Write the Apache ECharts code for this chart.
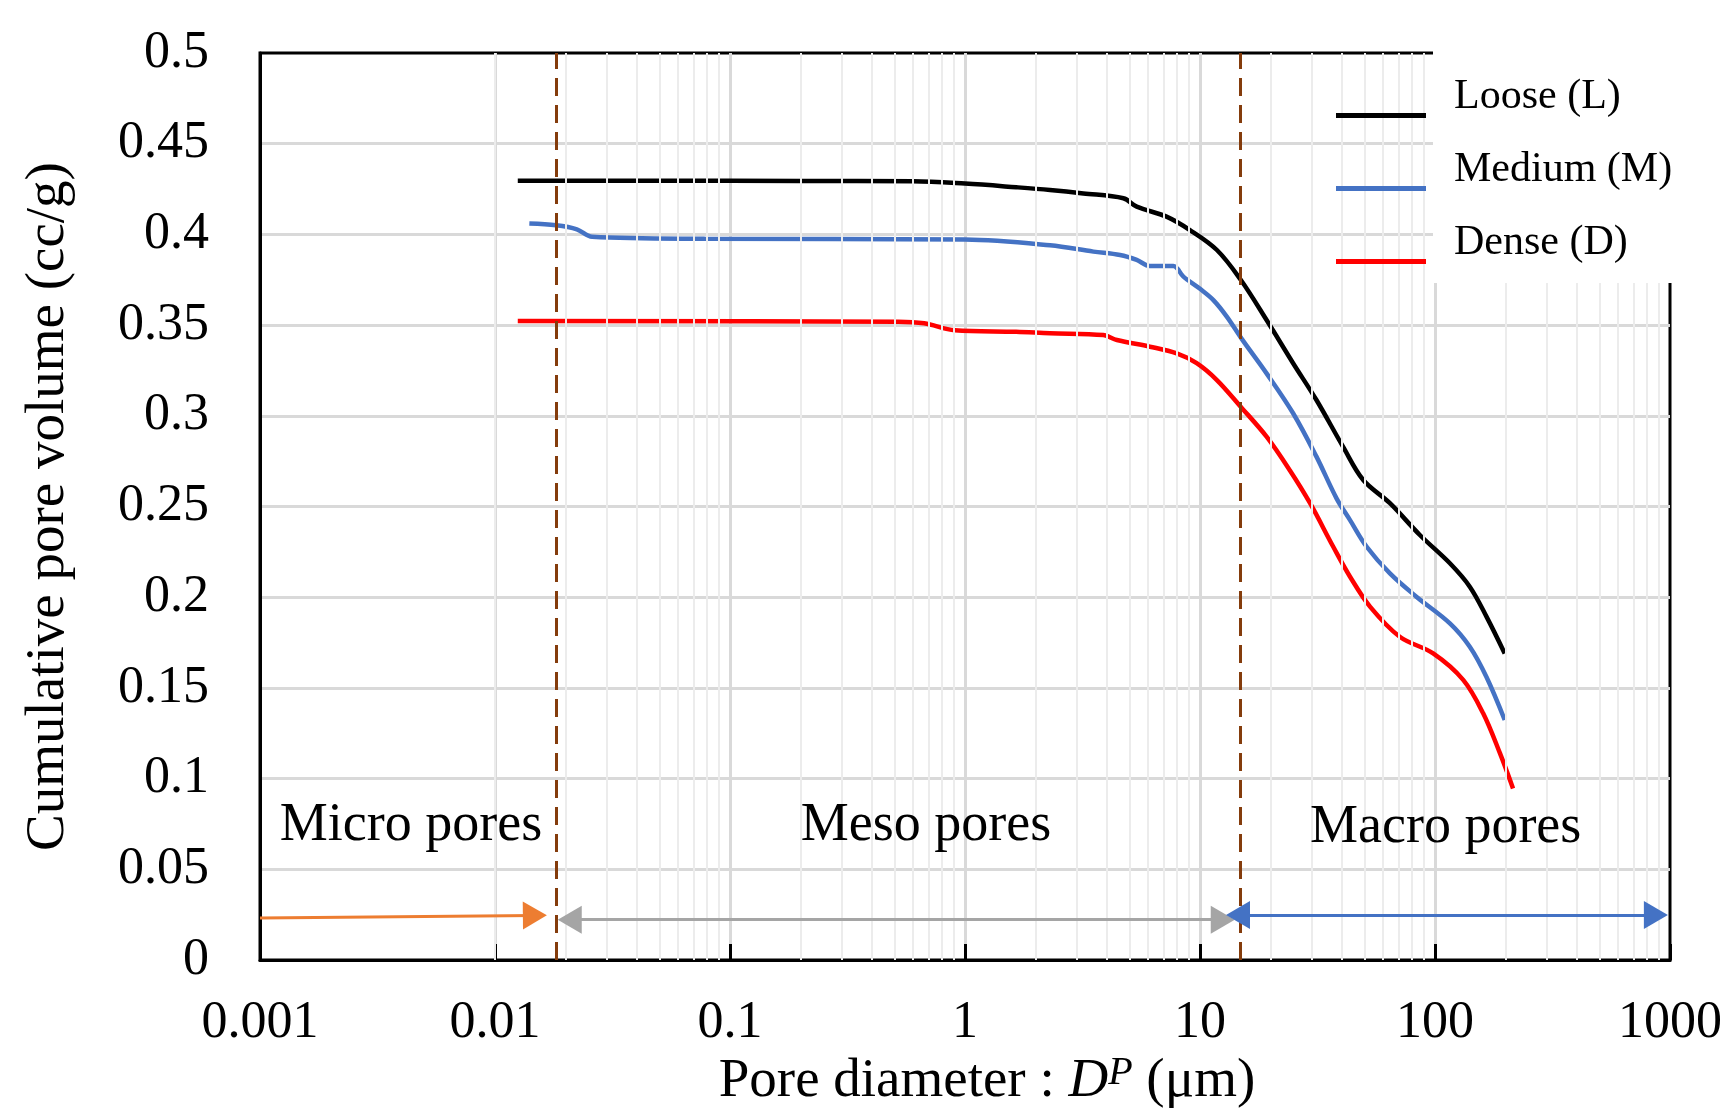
<!DOCTYPE html>
<html>
<head>
<meta charset="UTF-8">
<title>Cumulative pore volume</title>
<script src="https://cdn.jsdelivr.net/npm/echarts@6/dist/echarts.min.js"></script>
<style>
	html, body { margin: 0; padding: 0; background: #fff; }
	#chart { width: 1725px; height: 1118px; }
</style>
</head>
<body>
<div id="chart"></div>
<script>
// pore diameter (um) / cumulative pore volume (cc/g)
var looseD = [0.0125, 0.05, 0.2, 0.6, 1, 1.65, 2.3, 3.19, 4.72, 5.38, 7.2, 9.06, 11.8, 14.9, 19.2, 24.9, 31.3, 40.6, 49.5, 64.3, 86.2, 115.7, 140.6, 165.6, 198];
var looseV = [0.4296, 0.4296, 0.4295, 0.4293, 0.428, 0.426, 0.4245, 0.4226, 0.4199, 0.4153, 0.4098, 0.4024, 0.3914, 0.375, 0.3528, 0.329, 0.3087, 0.283, 0.2646, 0.2518, 0.2343, 0.2187, 0.2058, 0.1893, 0.169];

var mediumD = [0.014, 0.0182, 0.0223, 0.0259, 0.078, 1, 2.3, 3.52, 4.57, 5.38, 6.12, 7.7, 8.5, 10, 11.4, 13.0, 15.0, 19.2, 24.9, 31.3, 38.1, 43.5, 51.2, 64.3, 83.3, 115.7, 140.6, 165.6, 198];
var mediumV = [0.406, 0.405, 0.4028, 0.3987, 0.3976, 0.3972, 0.394, 0.3905, 0.3886, 0.3859, 0.3826, 0.3826, 0.3767, 0.370, 0.3638, 0.3547, 0.3427, 0.3234, 0.3014, 0.2775, 0.2545, 0.2425, 0.2278, 0.2131, 0.2003, 0.1856, 0.1727, 0.156, 0.1323];

var denseD = [0.0125, 0.52, 0.67, 0.905, 1.65, 2.3, 3.88, 4.43, 6.12, 7.96, 9.68, 11.8, 14.9, 19.2, 24.1, 29.4, 36.9, 43.5, 52.9, 70.8, 98.2, 131.8, 160.3, 188.9, 214.8];
var denseV = [0.3522, 0.3519, 0.351, 0.3472, 0.3463, 0.3455, 0.3445, 0.3418, 0.3381, 0.3344, 0.329, 0.3197, 0.305, 0.2885, 0.270, 0.2518, 0.2278, 0.2113, 0.1948, 0.1782, 0.169, 0.1544, 0.136, 0.114, 0.0946];

var seriesNames = ['Loose (L)', 'Medium (M)', 'Dense (D)'];
var seriesColors = ['#000000', '#4472C4', '#FF0000'];

var xTicks = [0.001, 0.01, 0.1, 1, 10, 100, 1000];
var xTickLabels = ['0.001', '0.01', '0.1', '1', '10', '100', '1000'];

// pore class limits and labels
var boundaries = [0.0183, 14.9];
var regionNames = ['Micro pores', 'Meso pores', 'Macro pores'];
var regionX = [0.00439, 0.682, 111];
var regionY = [0.0738, 0.0738, 0.0728];

// arrows: [from, to]
var microArrow = [[0.001, 0.0232], [0.01478, 0.0246]];
var mesoArrow = [[0.0208, 0.0222], [12.5, 0.0222]];
var macroArrow = [[14.51, 0.0248], [871, 0.0248]];

var serif = "'Liberation Serif', 'Times New Roman', serif";

function pairs(d, v) {
	return d.map(function (x, i) { return [x, v[i]]; });
}

// light log grid lines 2..9 inside each decade
var minorX = [];
for (var e = 0; e < xTicks.length - 1; e++) {
	for (var k = 2; k <= 9; k++) {
		minorX.push(+(k * xTicks[e]).toPrecision(3));
	}
}

function arrowSeries(color, arrow, symbols) {
	return {
		type: 'line',
		data: [],
		z: 5,
		markLine: {
			silent: true,
			animation: false,
			symbol: symbols,
			symbolSize: [28, 24],
			label: { show: false },
			lineStyle: { color: color, width: 3, type: 'solid' },
			data: [[{ coord: arrow[0] }, { coord: arrow[1] }]]
		}
	};
}

var chart = echarts.init(document.getElementById('chart'));

var curves = [pairs(looseD, looseV), pairs(mediumD, mediumV), pairs(denseD, denseV)];

var series = curves.map(function (data, i) {
	return {
		name: seriesNames[i],
		type: 'line',
		data: data,
		smooth: 0.35,
		showSymbol: false,
		z: 3,
		lineStyle: { color: seriesColors[i], width: 4.5 },
		itemStyle: { color: seriesColors[i] }
	};
});

// minor vertical grid
series.push({
	type: 'line',
	data: [],
	z: 1,
	markLine: {
		silent: true,
		animation: false,
		symbol: ['none', 'none'],
		label: { show: false },
		lineStyle: { color: '#ececec', width: 2, type: 'solid' },
		data: minorX.map(function (v) { return { xAxis: v }; })
	}
});

// dashed class limits
series.push({
	type: 'line',
	data: [],
	z: 4,
	markLine: {
		silent: true,
		animation: false,
		symbol: ['none', 'none'],
		label: { show: false },
		lineStyle: { color: '#843C0C', width: 3, type: [18, 9] },
		data: boundaries.map(function (v) {
			return [{ coord: [v, 0] }, { coord: [v, 0.5] }];
		})
	}
});

series.push(arrowSeries('#ED7D31', microArrow, ['none', 'triangle']));
series.push(arrowSeries('#A5A5A5', mesoArrow, ['triangle', 'triangle']));
series.push(arrowSeries('#4472C4', macroArrow, ['triangle', 'triangle']));

// region labels
series.push({
	type: 'line',
	data: [],
	z: 5,
	markPoint: {
		silent: true,
		animation: false,
		symbol: 'circle',
		symbolSize: 0,
		label: {
			show: true,
			position: 'inside',
			formatter: '{b}',
			fontFamily: serif,
			fontSize: 54,
			color: '#000'
		},
		data: regionNames.map(function (n, i) {
			return { name: n, coord: [regionX[i], regionY[i]] };
		})
	}
});

var option = {
	animation: false,
	backgroundColor: '#fff',
	grid: {
		left: 260,
		right: 54,
		top: 53,
		bottom: 158,
		show: true,
		borderColor: '#000',
		borderWidth: 3,
		backgroundColor: 'transparent'
	},
	legend: {
		data: seriesNames,
		orient: 'vertical',
		left: 1336,
		top: 76,
		padding: 0,
		itemGap: 31,
		itemWidth: 90,
		itemHeight: 42,
		icon: 'path://M0,0L0.01,0L0,0.01Z M0,37L90,37L90,42L0,42Z',
		itemStyle: { borderWidth: 0 },
		selectedMode: false,
		z: 10,
		textStyle: {
			fontFamily: serif,
			fontSize: 42,
			color: '#000',
			padding: [0, 0, 0, 23]
		}
	},
	graphic: [{
		type: 'rect',
		shape: { x: 1433, y: 40, width: 292, height: 243 },
		style: { fill: '#fff' },
		z: 6
	}],
	xAxis: {
		type: 'log',
		logBase: 10,
		min: 0.001,
		max: 1000,
		name: 'Pore diameter : {i|D}{s|P} (μm)',
		nameLocation: 'middle',
		nameGap: 92,
		nameTextStyle: {
			fontFamily: serif,
			fontSize: 55,
			color: '#000',
			padding: [0, 0, 0, 44],
			rich: {
				i: { fontFamily: serif, fontSize: 55, fontStyle: 'italic', color: '#000' },
				s: { fontFamily: serif, fontSize: 40, fontStyle: 'italic', color: '#000', verticalAlign: 'top' }
			}
		},
		axisLine: { show: true, lineStyle: { color: '#000', width: 3 } },
		axisTick: { show: true, inside: true, length: 16, lineStyle: { color: '#000', width: 3 } },
		axisLabel: {
			margin: 37,
			fontFamily: serif,
			fontSize: 52,
			color: '#000',
			formatter: function (v) {
				var i = xTicks.indexOf(v);
				return i >= 0 ? xTickLabels[i] : String(v);
			}
		},
		splitLine: {
			show: true,
			showMinLine: false,
			showMaxLine: false,
			lineStyle: { color: '#d9d9d9', width: 3 }
		}
	},
	yAxis: {
		type: 'value',
		min: 0,
		max: 0.5,
		interval: 0.05,
		name: 'Cumulative pore volume (cc/g)',
		nameLocation: 'middle',
		nameGap: 184,
		nameTextStyle: { fontFamily: serif, fontSize: 55, color: '#000' },
		axisLine: { show: true, lineStyle: { color: '#000', width: 3 } },
		axisTick: { show: false },
		axisLabel: { margin: 51, fontFamily: serif, fontSize: 52, color: '#000' },
		splitLine: {
			show: true,
			showMinLine: false,
			showMaxLine: false,
			lineStyle: { color: '#d9d9d9', width: 3 }
		}
	},
	series: series
};

chart.setOption(option);
</script>
</body>
</html>
